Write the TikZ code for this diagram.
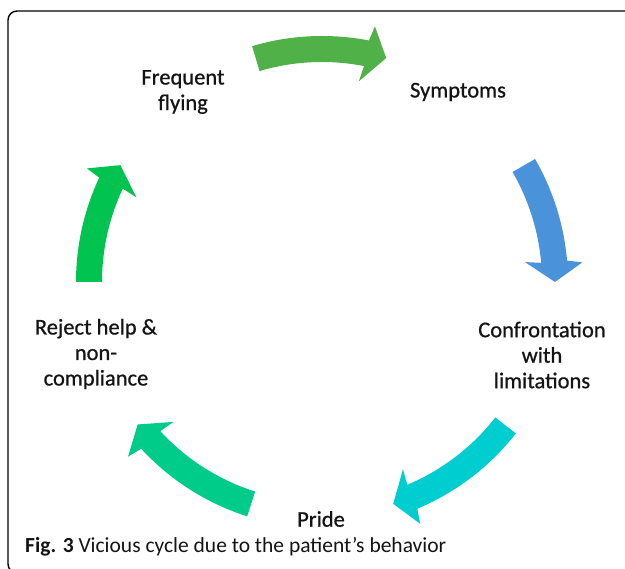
\documentclass[tikz,border=0pt]{standalone}
\usepackage{fontspec}
\setmainfont{Carlito}
\newfontfamily\lblfont{Carlito}[FakeBold=0.7]
\definecolor{arrtop}{HTML}{4FB148}
\definecolor{arrblue}{HTML}{4A93DB}
\definecolor{arrcyan}{HTML}{00CDCF}
\definecolor{arrteal}{HTML}{00CC8A}
\definecolor{arrgreen}{HTML}{00C44F}
\definecolor{txt}{HTML}{141414}
% curved block arrow round the centre: colour, tail angle, tip angle
\newcommand{\cyclearrow}[3]{%
  \fill[#1] (#2:246) arc[start angle=#2, end angle=#3+5, radius=246]
    -- ({#3+4.3}:261) -- (#3:233) -- ({#3+5.6}:204) -- ({#3+5}:220)
    arc[start angle=#3+5, end angle=#2, radius=220] -- cycle;}
\begin{document}
\begin{tikzpicture}[x=1pt, y=1pt,
                    lbl/.style={align=center, text=txt, inner sep=0pt,
                                font=\lblfont\fontsize{22.5}{25.5}\selectfont}]
                \useasboundingbox (0,0) rectangle (625,569);
                \clip (0,0) rectangle (625,569);
                \draw[line width=1.4pt, rounded corners=9pt] (8,558) rectangle (660,-4);
                \coordinate (C) at (322,287);
                \node[lbl](FLY) at (183,477) {Frequent\\flying};
                \node[lbl](SYM) at (458,477) {Symptoms};
                \node[lbl](CONF) at (542,214) {Confrontation\\with\\limitations};
                \node[lbl](PRIDE) at (321,50) {Pride};
                \node[lbl](REJ) at (96,215) {Reject help \&\\non-\\compliance};
                \begin{scope}[shift={(C)}]
                \cyclearrow{arrtop}{106.5}{74}
                \cyclearrow{arrblue}{30}{0}
                \cyclearrow{arrcyan}{-38}{-72.2}
                \cyclearrow{arrteal}{-107.7}{-142.3}
                \cyclearrow{arrgreen}{180}{149.9}
                \end{scope}
                \node[anchor=west, text=txt, inner sep=0pt, font=\fontsize{21.5}{24}\selectfont](CAP) at (25,22)
                    {\textbf{Fig. 3} Vicious cycle due to the patient’s behavior};
            \end{tikzpicture}
\end{document}
